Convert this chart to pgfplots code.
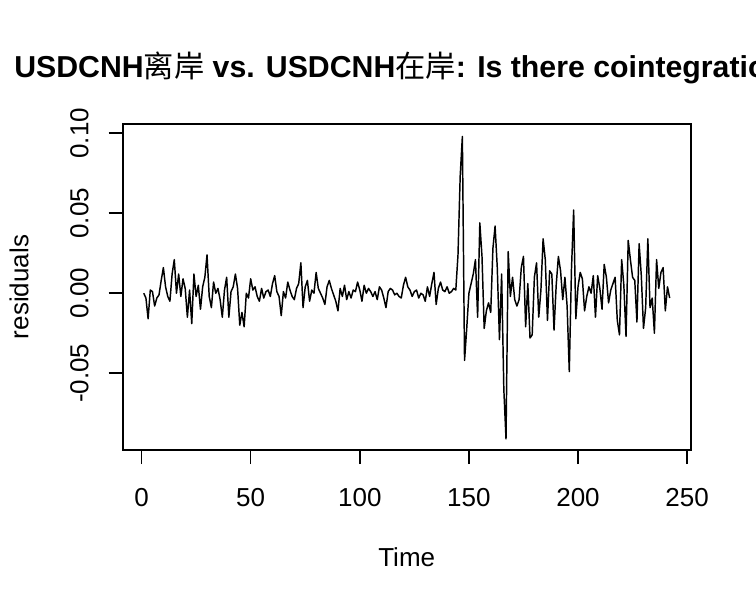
\documentclass[border=0pt]{standalone}
\usepackage{pgfplots}
\pgfplotsset{compat=1.18}
\usepackage{fontspec}
\setmainfont{Liberation Sans}
\newfontfamily\cjk{Noto Sans CJK SC}
\begin{document}
\begin{tikzpicture}
\useasboundingbox (0,0) rectangle (567pt,454.5pt);
\begin{axis}[
  at={(92.03pt,117pt)}, anchor=south west,
  scale only axis, width=426pt, height=244.5pt,
  xmin=-8.64, xmax=251.64, ymin=-0.098, ymax=0.1058,
  axis line style={line width=1.2pt},
  tick style={line width=1.2pt, black},
  tick align=outside, major tick length=10.5pt,
  xtick pos=left, ytick pos=left,
  xtick={0,50,100,150,200,250},
  xticklabels={0,50,100,150,200,250},
  ytick={-0.05,0,0.05,0.1},
  yticklabels={-0.05,0.00,0.05,0.10},
  font=\fontsize{19.5}{23}\selectfont,
  xticklabel style={anchor=base, inner sep=0pt, yshift=-32pt},
  yticklabel style={xshift=-15.3pt, rotate=90, anchor=base, inner sep=0pt},
  xlabel={Time}, ylabel={residuals},
  xlabel style={at={(axis description cs:0.5,-0.358)}, anchor=base, inner sep=0pt},
  ylabel style={at={(axis description cs:-0.1662,0.5)}, anchor=base, inner sep=0pt},
  clip=false,
]
\addplot[black, line width=1.1pt, line join=round, mark=none] coordinates {
(1,0.000)(2,-0.003)(3,-0.016)(4,0.002)(5,0.001)(6,-0.008)(7,-0.003)(8,-0.001)(9,0.008)(10,0.016)
(11,0.004)(12,-0.002)(13,-0.005)(14,0.012)(15,0.021)(16,0.000)(17,0.012)(18,-0.002)(19,0.009)(20,0.003)
(21,-0.015)(22,0.002)(23,-0.019)(24,0.012)(25,-0.002)(26,0.005)(27,-0.010)(28,0.004)(29,0.010)(30,0.024)
(31,-0.002)(32,-0.009)(33,0.007)(34,0.000)(35,0.003)(36,-0.004)(37,-0.015)(38,0.002)(39,0.010)(40,-0.015)
(41,0.001)(42,0.004)(43,0.012)(44,0.003)(45,-0.020)(46,-0.012)(47,-0.021)(48,0.000)(49,-0.003)(50,0.009)
(51,0.002)(52,0.004)(53,-0.002)(54,-0.005)(55,0.003)(56,-0.003)(57,0.001)(58,0.002)(59,-0.002)(60,0.006)
(61,0.011)(62,0.001)(63,-0.002)(64,-0.014)(65,0.001)(66,-0.003)(67,0.007)(68,0.002)(69,-0.002)(70,-0.004)
(71,0.003)(72,0.006)(73,0.019)(74,-0.009)(75,0.004)(76,0.008)(77,-0.005)(78,0.002)(79,0.000)(80,0.013)
(81,0.003)(82,0.000)(83,-0.003)(84,-0.007)(85,0.004)(86,0.008)(87,0.003)(88,-0.001)(89,-0.005)(90,-0.011)
(91,0.003)(92,-0.002)(93,0.005)(94,-0.004)(95,0.001)(96,-0.003)(97,0.002)(98,0.001)(99,0.007)(100,0.002)
(101,-0.005)(102,0.005)(103,0.000)(104,0.003)(105,0.001)(106,-0.002)(107,0.001)(108,-0.004)(109,0.004)(110,0.002)
(111,-0.003)(112,-0.009)(113,0.001)(114,0.003)(115,0.002)(116,-0.001)(117,0.000)(118,-0.002)(119,-0.003)(120,0.005)
(121,0.010)(122,0.004)(123,0.002)(124,-0.002)(125,0.001)(126,0.002)(127,-0.003)(128,0.000)(129,-0.001)(130,-0.005)
(131,0.004)(132,-0.002)(133,0.006)(134,0.013)(135,-0.007)(136,0.003)(137,0.007)(138,0.002)(139,0.001)(140,0.004)
(141,0.000)(142,0.001)(143,0.003)(144,0.002)(145,0.024)(146,0.073)(147,0.098)(148,-0.042)(149,-0.022)(150,0.000)
(151,0.006)(152,0.012)(153,0.021)(154,-0.015)(155,0.044)(156,0.023)(157,-0.022)(158,-0.011)(159,-0.006)(160,-0.012)
(161,0.028)(162,0.042)(163,0.016)(164,-0.029)(165,0.012)(166,-0.060)(167,-0.091)(168,0.026)(169,-0.002)(170,0.010)
(171,-0.004)(172,-0.008)(173,-0.004)(174,0.016)(175,0.023)(176,-0.021)(177,0.006)(178,-0.028)(179,-0.026)(180,0.010)
(181,0.019)(182,-0.015)(183,0.002)(184,0.034)(185,0.021)(186,-0.017)(187,0.014)(188,0.012)(189,-0.023)(190,0.005)
(191,0.023)(192,0.014)(193,-0.004)(194,0.010)(195,-0.008)(196,-0.049)(197,0.015)(198,0.052)(199,-0.016)(200,0.004)
(201,0.013)(202,0.009)(203,-0.011)(204,-0.002)(205,0.004)(206,0.000)(207,0.011)(208,-0.015)(209,0.011)(210,0.003)
(211,-0.010)(212,0.018)(213,0.010)(214,-0.006)(215,0.002)(216,0.006)(217,0.010)(218,-0.017)(219,-0.026)(220,0.021)
(221,0.005)(222,-0.027)(223,0.033)(224,0.021)(225,0.010)(226,0.008)(227,-0.018)(228,0.031)(229,0.011)(230,-0.022)
(231,-0.009)(232,0.034)(233,-0.009)(234,-0.003)(235,-0.025)(236,0.021)(237,0.003)(238,0.013)(239,0.016)(240,-0.011)
(241,0.004)(242,-0.003)
};
\end{axis}
\node[anchor=base west, inner sep=0pt, font=\fontsize{22.7}{27}\selectfont\bfseries] at (10.5pt,396.5pt) {USDCNH{\cjk\mdseries 离岸} vs. USDCNH{\cjk\mdseries 在岸}: Is there cointegration?};
\end{tikzpicture}
\end{document}
